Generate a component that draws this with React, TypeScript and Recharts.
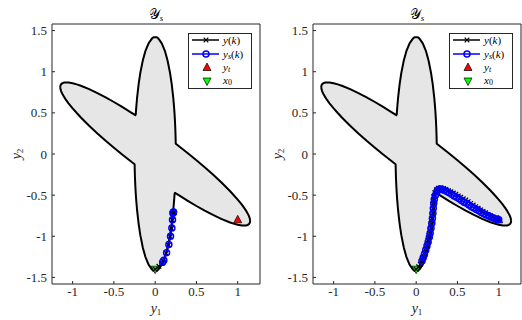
import React from 'react';
import { ComposedChart, Area, Line, Scatter, XAxis, YAxis, Legend } from 'recharts';

// Outline of the feasible set Y_s: for each y1, lower and upper y2 boundary
const shapeX = [
  -1.1503, -1.15, -1.145, -1.14, -1.13, -1.12, -1.1, -1.08, -1.05, -1.0, -0.95, -0.9, -0.8, -0.7, -0.6, -0.5, -0.4, -0.3,
  -0.25, -0.249, -0.248, -0.245, -0.24, -0.235, -0.23, -0.22, -0.2, -0.18, -0.15, -0.12, -0.08, -0.04, -0.02, 0,
  0.02, 0.04, 0.08, 0.12, 0.15, 0.18, 0.2, 0.22, 0.23, 0.235, 0.24, 0.245, 0.248, 0.249, 0.25,
  0.3, 0.4, 0.5, 0.6, 0.7, 0.8, 0.9, 0.95, 1.0, 1.05, 1.08, 1.1, 1.12, 1.13, 1.14, 1.145, 1.15, 1.1503,
];
const shapeLow = [
  0.813, 0.806, 0.78, 0.765, 0.741, 0.722, 0.688, 0.657, 0.616, 0.555, 0.498, 0.444, 0.344, 0.25, 0.161, 0.076, -0.007, -0.086,
  -0.125, -0.127, -0.179, -0.283, -0.398, -0.485, -0.557, -0.675, -0.852, -0.986, -1.136, -1.246, -1.345, -1.402, -1.418, -1.42,
  -1.418, -1.402, -1.345, -1.246, -1.136, -0.986, -0.852, -0.675, -0.557, -0.485, -0.472, -0.475, -0.477, -0.478, -0.478,
  -0.51, -0.572, -0.632, -0.688, -0.74, -0.788, -0.829, -0.846, -0.86, -0.869, -0.87, -0.868, -0.862, -0.857, -0.847, -0.839, -0.82, -0.813,
];
const shapeHigh = [
  0.813, 0.82, 0.839, 0.847, 0.857, 0.862, 0.868, 0.87, 0.869, 0.86, 0.846, 0.829, 0.788, 0.74, 0.688, 0.632, 0.572, 0.51,
  0.478, 0.478, 0.477, 0.475, 0.472, 0.485, 0.557, 0.675, 0.852, 0.986, 1.136, 1.246, 1.345, 1.402, 1.418, 1.42,
  1.418, 1.402, 1.345, 1.246, 1.136, 0.986, 0.852, 0.675, 0.557, 0.485, 0.398, 0.283, 0.179, 0.127, 0.125,
  0.086, 0.007, -0.076, -0.161, -0.25, -0.344, -0.444, -0.498, -0.555, -0.616, -0.657, -0.688, -0.722, -0.741, -0.765, -0.78, -0.806, -0.813,
];

// Left panel trajectories
const leftY1 = [0, 0.045, 0.08, 0.1, 0.133, 0.162, 0.183, 0.199, 0.208, 0.214, 0.218, 0.22, 0.221];
const leftY2 = [-1.4, -1.365, -1.33, -1.295, -1.205, -1.105, -1.005, -0.905, -0.805, -0.725, -0.715, -0.71, -0.707];
const leftYs1 = [0.09, 0.105, 0.138, 0.166, 0.186, 0.202, 0.21, 0.216, 0.219, 0.221, 0.222];
const leftYs2 = [-1.315, -1.29, -1.2, -1.1, -1.0, -0.9, -0.8, -0.72, -0.712, -0.708, -0.706];

// Right panel trajectories
const rightY1 = [
  0, 0.03, 0.05, 0.065, 0.08, 0.095, 0.11, 0.125, 0.14, 0.155, 0.165, 0.175, 0.183, 0.19, 0.196, 0.2, 0.205, 0.212, 0.225, 0.245,
  0.27, 0.3, 0.33, 0.36, 0.39, 0.42, 0.45, 0.48, 0.51, 0.54, 0.57, 0.6, 0.63, 0.66, 0.69, 0.72, 0.75, 0.78, 0.81, 0.84, 0.87, 0.9, 0.93, 0.96, 0.99, 1.0,
];
const rightY2 = [
  -1.4, -1.37, -1.34, -1.3, -1.26, -1.21, -1.16, -1.11, -1.05, -0.99, -0.93, -0.87, -0.81, -0.75, -0.69, -0.63, -0.57, -0.52, -0.47, -0.435,
  -0.415, -0.41, -0.42, -0.43, -0.445, -0.46, -0.475, -0.49, -0.51, -0.525, -0.545, -0.56, -0.58, -0.6, -0.62, -0.64, -0.66, -0.68, -0.7, -0.715, -0.735, -0.75, -0.765, -0.78, -0.795, -0.8,
];
const rightYs1 = [
  0.07, 0.085, 0.1, 0.115, 0.13, 0.145, 0.16, 0.17, 0.18, 0.19, 0.197, 0.203, 0.208, 0.213, 0.22, 0.232, 0.25, 0.27, 0.29, 0.31,
  0.34, 0.37, 0.4, 0.43, 0.46, 0.49, 0.52, 0.55, 0.58, 0.61, 0.64, 0.67, 0.7, 0.73, 0.76, 0.79, 0.82, 0.85, 0.88, 0.91, 0.94, 0.97, 0.99, 1.0,
];
const rightYs2 = [
  -1.3, -1.26, -1.22, -1.17, -1.12, -1.07, -1.01, -0.96, -0.9, -0.84, -0.78, -0.72, -0.66, -0.6, -0.55, -0.5, -0.46, -0.43, -0.425, -0.43,
  -0.44, -0.455, -0.47, -0.49, -0.51, -0.525, -0.545, -0.565, -0.585, -0.6, -0.62, -0.64, -0.655, -0.675, -0.69, -0.71, -0.725, -0.74, -0.755, -0.77, -0.78, -0.79, -0.795, -0.8,
];

const targetPoint = [1.0, -0.8];
const startPoint = [0, -1.4];

const xTicks = [-1, -0.5, 0, 0.5, 1];
const yTicks = [-1.5, -1, -0.5, 0, 0.5, 1, 1.5];
const xDomain: [number, number] = [-1.25, 1.27];
const yDomain: [number, number] = [-1.58, 1.58];

const shapeData = shapeX.map((x, i) => ({ x, r: [shapeLow[i], shapeHigh[i]] }));
const toPts = (a: number[], b: number[]) => a.map((x, i) => ({ x, y: b[i] }));

const SERIF = 'Liberation Serif, DejaVu Serif, serif';
const AX = '#262626';

const XMark = (p: any) => {
  const { cx, cy } = p;
  if (cx == null || cy == null) return <g key={p.key} />;
  const s = 2.3;
  return (
    <path
      key={p.key}
      d={`M${cx - s},${cy - s}L${cx + s},${cy + s}M${cx - s},${cy + s}L${cx + s},${cy - s}`}
      stroke="#000"
      strokeWidth={1.2}
      fill="none"
    />
  );
};

const UpTri = (p: any) => {
  const { cx, cy } = p;
  return <path d={`M${cx},${cy - 4.5}L${cx + 4},${cy + 3}L${cx - 4},${cy + 3}Z`} fill="#ff0000" stroke="#000" strokeWidth={0.7} />;
};
const DownTri = (p: any) => {
  const { cx, cy } = p;
  return <path d={`M${cx},${cy + 4.5}L${cx + 4},${cy - 3}L${cx - 4},${cy - 3}Z`} fill="#00ff00" stroke="#000" strokeWidth={0.7} />;
};

const TitleLabel = (props: any) => {
  const vb = props.viewBox || {};
  const cx = vb.x + vb.width / 2;
  return (
    <text x={cx} y={19} textAnchor="middle" fontFamily={SERIF} fontSize={14} fill="#000">
      <tspan>𝒴</tspan>
      <tspan fontSize={9} dy={2} fontStyle="italic">s</tspan>
    </text>
  );
};
const XLabel = (props: any) => {
  const vb = props.viewBox || {};
  const cx = vb.x + vb.width / 2;
  return (
    <text x={cx} y={313} textAnchor="middle" fontFamily={SERIF} fontSize={14} fill={AX}>
      <tspan fontStyle="italic">y</tspan>
      <tspan fontSize={9} dy={2}>1</tspan>
    </text>
  );
};
const YLabel = (props: any) => {
  const vb = props.viewBox || {};
  const cy = vb.y + vb.height / 2;
  return (
    <text x={21} y={cy} textAnchor="middle" fontFamily={SERIF} fontSize={14} fill={AX} transform={`rotate(-90, 21, ${cy})`}>
      <tspan fontStyle="italic">y</tspan>
      <tspan fontSize={9} dy={2}>2</tspan>
    </text>
  );
};

const LegendBox = () => {
  const rows = [6, 20, 33.5, 47];
  const tx = 34;
  return (
    <div style={{ width: 62, height: 54, border: `1px solid ${AX}`, background: '#fff', overflow: 'visible' }}>
      <svg width={62} height={54} style={{ display: 'block', overflow: 'visible' }}>
        <line x1={3} x2={30} y1={rows[0]} y2={rows[0]} stroke="#000" strokeWidth={1.5} />
        <XMark cx={17} cy={rows[0]} />
        <line x1={3} x2={30} y1={rows[1]} y2={rows[1]} stroke="#0000ff" strokeWidth={1.5} />
        <circle cx={17} cy={rows[1]} r={3} fill="none" stroke="#0000ff" strokeWidth={1.5} />
        <UpTri cx={18} cy={rows[2]} />
        <DownTri cx={18} cy={rows[3]} />
        <text x={tx} y={rows[0] + 3.5} fontFamily={SERIF} fontSize={11} fill="#000">
          <tspan fontStyle="italic">y</tspan>(<tspan fontStyle="italic">k</tspan>)
        </text>
        <text x={tx} y={rows[1] + 3.5} fontFamily={SERIF} fontSize={11} fill="#000">
          <tspan fontStyle="italic">y</tspan>
          <tspan fontStyle="italic" fontSize={8} dy={1.5}>s</tspan>
          <tspan dy={-1.5}>(</tspan>
          <tspan fontStyle="italic">k</tspan>)
        </text>
        <text x={tx} y={rows[2] + 3} fontFamily={SERIF} fontSize={11} fill="#000">
          <tspan fontStyle="italic">y</tspan>
          <tspan fontStyle="italic" fontSize={8} dy={1.5}>t</tspan>
        </text>
        <text x={tx} y={rows[3] + 2.5} fontFamily={SERIF} fontSize={11} fill="#000">
          <tspan fontStyle="italic">x</tspan>
          <tspan fontSize={8} dy={1.5}>0</tspan>
        </text>
      </svg>
    </div>
  );
};

const tickStyle = { fontFamily: SERIF, fontSize: 13, fill: AX };

type PanelProps = { left: number; yk: { x: number; y: number }[]; ysk: { x: number; y: number }[] };

const Panel = ({ left, yk, ysk }: PanelProps) => (
  <div style={{ position: 'absolute', left, top: 0, width: 261, height: 320 }}>
    <ComposedChart width={261} height={320} margin={{ top: 23, right: 0, bottom: 6, left: 8 }} style={{ fontFamily: SERIF }}>
      <XAxis
        xAxisId={0}
        type="number"
        dataKey="x"
        domain={xDomain}
        ticks={xTicks}
        allowDataOverflow
        tickSize={-3}
        tickMargin={6}
        height={30}
        axisLine={{ stroke: AX }}
        tickLine={{ stroke: AX }}
        tick={tickStyle}
        label={{ content: XLabel }}
      />
      <XAxis
        xAxisId="top"
        orientation="top"
        type="number"
        dataKey="x"
        domain={xDomain}
        ticks={xTicks}
        allowDataOverflow
        tickSize={-3}
        height={1}
        axisLine={{ stroke: AX }}
        tickLine={{ stroke: AX }}
        tick={false}
        label={{ content: TitleLabel }}
      />
      <YAxis
        yAxisId={0}
        type="number"
        domain={yDomain}
        ticks={yTicks}
        allowDataOverflow
        tickSize={-3}
        tickMargin={8}
        width={44}
        axisLine={{ stroke: AX }}
        tickLine={{ stroke: AX }}
        tick={tickStyle}
        label={{ content: YLabel }}
      />
      <YAxis
        yAxisId="right"
        orientation="right"
        type="number"
        domain={yDomain}
        ticks={yTicks}
        allowDataOverflow
        tickSize={-3}
        width={1}
        axisLine={{ stroke: AX }}
        tickLine={{ stroke: AX }}
        tick={false}
      />
      <Area
        data={shapeData}
        dataKey="r"
        type="linear"
        fill="#e6e6e6"
        fillOpacity={1}
        stroke="#000"
        strokeWidth={2}
        strokeLinejoin="round"
        isAnimationActive={false}
        dot={false}
        activeDot={false}
      />
      <Line
        data={yk}
        dataKey="y"
        type="linear"
        stroke="#000"
        strokeWidth={1.5}
        dot={XMark}
        activeDot={false}
        isAnimationActive={false}
      />
      <Line
        data={ysk}
        dataKey="y"
        type="linear"
        stroke="#0000ff"
        strokeWidth={1.5}
        dot={{ r: 3, stroke: '#0000ff', strokeWidth: 1.5, fill: 'none' }}
        activeDot={false}
        isAnimationActive={false}
      />
      <Scatter data={[{ x: targetPoint[0], y: targetPoint[1] }]} dataKey="y" shape={UpTri} isAnimationActive={false} />
      <Scatter data={[{ x: startPoint[0], y: startPoint[1] }]} dataKey="y" shape={DownTri} isAnimationActive={false} />
      <Legend
        layout="horizontal"
        verticalAlign="middle"
        align="center"
        wrapperStyle={{ left: 188, top: 33, width: 64, height: 56 }}
        content={LegendBox}
      />
    </ComposedChart>
  </div>
);

export default function App() {
  return (
    <div style={{ position: 'absolute', left: 0, top: 0, width: 522, height: 320, background: '#fff' }}>
      <Panel left={0} yk={toPts(leftY1, leftY2)} ysk={toPts(leftYs1, leftYs2)} />
      <Panel left={261} yk={toPts(rightY1, rightY2)} ysk={toPts(rightYs1, rightYs2)} />
    </div>
  );
}
